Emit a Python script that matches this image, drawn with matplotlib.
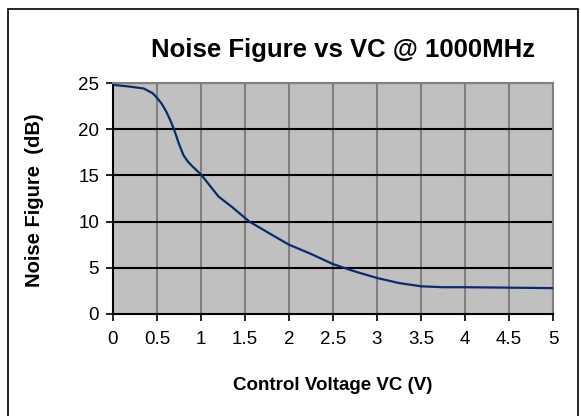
import matplotlib
matplotlib.use("Agg")
from matplotlib import pyplot as plt
from matplotlib.patches import Rectangle

# Noise figure vs control voltage
vc = [0, 0.2, 0.35, 0.45, 0.5, 0.55, 0.6, 0.65, 0.7, 0.75, 0.8, 0.85, 0.9,
      1.0, 1.1, 1.2, 1.35, 1.55, 1.8, 2.0, 2.25, 2.5, 2.75, 3.0, 3.25,
      3.5, 3.75, 4.0, 4.5, 5.0]
noise_fig = [24.8, 24.6, 24.4, 23.9, 23.4, 22.8, 22.0, 21.0, 19.8, 18.4,
             17.2, 16.5, 16.0, 15.1, 13.9, 12.7, 11.6, 10.0, 8.6, 7.5, 6.5,
             5.4, 4.6, 3.9, 3.35, 3.0, 2.9, 2.9, 2.85, 2.8]
x_ticks = [0, 0.5, 1, 1.5, 2, 2.5, 3, 3.5, 4, 4.5, 5]
x_labels = ['0', '0.5', '1', '1.5', '2', '2.5', '3', '3.5', '4', '4.5', '5']
y_ticks = [0, 5, 10, 15, 20, 25]

plt.rcParams['font.family'] = ['Liberation Sans', 'DejaVu Sans']

fig = plt.figure(figsize=(5.81, 4.16), dpi=100)
ax = fig.add_axes([113/581, 1-314/416, 440/581, 231/416])
ax.set_facecolor('#c0c0c0')

for x in x_ticks[1:]:
    ax.axvline(x, color='#808080', lw=1.5, zorder=1)
for y in y_ticks[1:]:
    ax.axhline(y, color='black', lw=1.5, zorder=1)

ax.plot(vc, noise_fig, color='#0a2a6e', lw=1.6, zorder=3)

ax.set_xlim(0, 5)
ax.set_ylim(0, 25)
ax.set_xticks(x_ticks)
ax.set_xticklabels(x_labels)
ax.set_yticks(y_ticks)
ax.tick_params(labelsize=13.5, length=5, width=1.2, color='black', pad=5)
ax.tick_params(axis='x', pad=7)

for s in ['left', 'bottom']:
    ax.spines[s].set_linewidth(1.5)
    ax.spines[s].set_color('black')
for s in ['top', 'right']:
    ax.spines[s].set_linewidth(1.5)
    ax.spines[s].set_color('#808080')

fig.text(343/581, 1-50/416, 'Noise Figure vs VC @ 1000MHz', ha='center',
         va='center', fontsize=18.5, fontweight='bold')
fig.text(333/581, 1-385/416, 'Control Voltage VC (V)', ha='center',
         va='center', fontsize=13.5, fontweight='bold')
fig.text(35/581, 1-200/416, 'Noise Figure  (dB)', ha='center',
         va='center', fontsize=14.5, fontweight='bold', rotation=90)

fig.patches.append(Rectangle((8/581, -0.05), 570/581, 1.05-9/416,
                             transform=fig.transFigure, fill=False,
                             edgecolor='black', lw=1.2))

fig.savefig('out.png', dpi=100)
